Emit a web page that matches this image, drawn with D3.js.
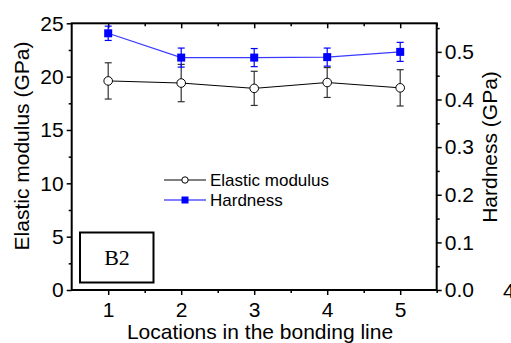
<!DOCTYPE html>
<html><head><meta charset="utf-8">
<script src="https://cdn.jsdelivr.net/npm/d3@7"></script>
<style>html,body{margin:0;padding:0;background:#fff;}svg{display:block;}</style>
</head><body>
<svg id="c" width="511" height="343"></svg>
<script>
const locations = [1, 2, 3, 4, 5];
const modulus = [19.6, 19.4, 18.9, 19.45, 18.95];
const modulusErr = [1.7, 1.75, 1.6, 1.4, 1.7];
const hardness = [0.539, 0.488, 0.488, 0.489, 0.500];
const hardnessErr = [0.015, 0.020, 0.019, 0.019, 0.020];
const xTicks = [1, 2, 3, 4, 5];
const leftTicks = [0, 5, 10, 15, 20, 25];
const rightTicks = [0, 0.1, 0.2, 0.3, 0.4, 0.5];

const svg = d3.select("#c");
const L = 71.7, R = 436.7, T = 23.3, B = 290;
const x = d3.scaleLinear().domain([0.5, 5.5]).range([L, R]);
const yL = d3.scaleLinear().domain([0, 25]).range([B, T]);
const yR = d3.scaleLinear().domain([0, 0.56]).range([B, T]);
const font = "Liberation Sans, Arial, sans-serif";

function styleAxis(g, size) {
  g.selectAll("path").remove();
  g.selectAll("line").attr("stroke", "#000").attr("stroke-width", 1.5);
  g.selectAll("text").attr("font-family", font).attr("font-size", size).attr("fill", "#000");
}
const xMinor = d3.range(1.5, 5.6, 1);
const lMinor = d3.range(2.5, 25, 5);
const rMinor = d3.range(0.05, 0.56, 0.1);

// bottom axis
const gb = svg.append("g").attr("transform", `translate(0,${B})`)
  .call(d3.axisBottom(x).tickValues(xTicks).tickFormat(d3.format("d")).tickSize(5).tickPadding(7));
styleAxis(gb, 21);
svg.append("g").attr("transform", `translate(0,${B})`)
  .call(d3.axisBottom(x).tickValues(xMinor).tickFormat("").tickSize(3)).call(g => styleAxis(g, 21));
// top axis (inward ticks)
svg.append("g").attr("transform", `translate(0,${T})`)
  .call(d3.axisBottom(x).tickValues(xTicks).tickFormat("").tickSize(5)).call(g => styleAxis(g, 21));
svg.append("g").attr("transform", `translate(0,${T})`)
  .call(d3.axisBottom(x).tickValues(xMinor).tickFormat("").tickSize(3)).call(g => styleAxis(g, 21));
// left axis
const gl = svg.append("g").attr("transform", `translate(${L},0)`)
  .call(d3.axisLeft(yL).tickValues(leftTicks).tickFormat(d3.format("d")).tickSize(5).tickPadding(3));
styleAxis(gl, 21);
svg.append("g").attr("transform", `translate(${L},0)`)
  .call(d3.axisLeft(yL).tickValues(lMinor).tickFormat("").tickSize(3)).call(g => styleAxis(g, 21));
// right axis
const gr = svg.append("g").attr("transform", `translate(${R},0)`)
  .call(d3.axisRight(yR).tickValues(rightTicks).tickFormat(d3.format(".1f")).tickSize(5).tickPadding(3));
styleAxis(gr, 21);
svg.append("g").attr("transform", `translate(${R},0)`)
  .call(d3.axisRight(yR).tickValues(rMinor).tickFormat("").tickSize(3)).call(g => styleAxis(g, 21));

// frame
svg.append("rect").attr("x", L).attr("y", T).attr("width", R - L).attr("height", B - T)
  .attr("fill", "none").attr("stroke", "#000").attr("stroke-width", 2);

// elastic modulus series
const capW = 3.5;
const eg = svg.append("g");
eg.append("path").datum(locations.map((d, i) => [d, modulus[i]]))
  .attr("d", d3.line().x(d => x(d[0])).y(d => yL(d[1])))
  .attr("fill", "none").attr("stroke", "#000").attr("stroke-width", 1);
locations.forEach((d, i) => {
  const cx = x(d), y1 = yL(modulus[i] + modulusErr[i]), y2 = yL(modulus[i] - modulusErr[i]);
  eg.append("line").attr("x1", cx).attr("x2", cx).attr("y1", y1).attr("y2", y2).attr("stroke", "#333").attr("stroke-width", 1.2);
  eg.append("line").attr("x1", cx - capW).attr("x2", cx + capW).attr("y1", y1).attr("y2", y1).attr("stroke", "#333").attr("stroke-width", 1.2);
  eg.append("line").attr("x1", cx - capW).attr("x2", cx + capW).attr("y1", y2).attr("y2", y2).attr("stroke", "#333").attr("stroke-width", 1.2);
});
eg.selectAll("circle").data(locations).join("circle")
  .attr("cx", d => x(d)).attr("cy", (d, i) => yL(modulus[i])).attr("r", 4.3)
  .attr("fill", "#fff").attr("stroke", "#000").attr("stroke-width", 1);

// hardness series
const hg = svg.append("g");
hg.append("path").datum(locations.map((d, i) => [d, hardness[i]]))
  .attr("d", d3.line().x(d => x(d[0])).y(d => yR(d[1])))
  .attr("fill", "none").attr("stroke", "#3a3aff").attr("stroke-width", 1.2);
locations.forEach((d, i) => {
  const cx = x(d), y1 = yR(hardness[i] + hardnessErr[i]), y2 = yR(hardness[i] - hardnessErr[i]);
  hg.append("line").attr("x1", cx).attr("x2", cx).attr("y1", y1).attr("y2", y2).attr("stroke", "#0000ff").attr("stroke-width", 1.2);
  hg.append("line").attr("x1", cx - capW).attr("x2", cx + capW).attr("y1", y1).attr("y2", y1).attr("stroke", "#0000ff").attr("stroke-width", 1.2);
  hg.append("line").attr("x1", cx - capW).attr("x2", cx + capW).attr("y1", y2).attr("y2", y2).attr("stroke", "#0000ff").attr("stroke-width", 1.2);
});
hg.selectAll("rect").data(locations).join("rect")
  .attr("x", d => x(d) - 4).attr("y", (d, i) => yR(hardness[i]) - 4).attr("width", 8).attr("height", 8)
  .attr("fill", "#0000ff");

// legend
const lg = svg.append("g").attr("font-family", font).attr("font-size", 17);
lg.append("line").attr("x1", 164).attr("x2", 206).attr("y1", 180).attr("y2", 180).attr("stroke", "#000").attr("stroke-width", 1);
lg.append("circle").attr("cx", 185).attr("cy", 180).attr("r", 3.2).attr("fill", "#fff").attr("stroke", "#000");
lg.append("text").attr("x", 210).attr("y", 186).text("Elastic modulus");
lg.append("line").attr("x1", 164).attr("x2", 206).attr("y1", 200).attr("y2", 200).attr("stroke", "#0000ff").attr("stroke-width", 1);
lg.append("rect").attr("x", 181.5).attr("y", 196.5).attr("width", 7).attr("height", 7).attr("fill", "#0000ff");
lg.append("text").attr("x", 210).attr("y", 206).text("Hardness");

// B2 box
svg.append("rect").attr("x", 80).attr("y", 232.5).attr("width", 73.5).attr("height", 50)
  .attr("fill", "#fff").attr("stroke", "#000").attr("stroke-width", 2);
svg.append("text").attr("x", 117).attr("y", 265).attr("text-anchor", "middle")
  .attr("font-family", "Liberation Serif, Times New Roman, serif").attr("font-size", 22).text("B2");

// axis titles
svg.append("text").attr("transform", "translate(29,146) rotate(-90)").attr("text-anchor", "middle")
  .attr("font-family", font).attr("font-size", 21).text("Elastic modulus (GPa)");
svg.append("text").attr("transform", "translate(497,147) rotate(-90)").attr("text-anchor", "middle")
  .attr("font-family", font).attr("font-size", 21).text("Hardness (GPa)");
svg.append("text").attr("x", 260).attr("y", 339).attr("text-anchor", "middle")
  .attr("font-family", font).attr("font-size", 21).text("Locations in the bonding line");
// stray page character at right edge (cut off in the reference too)
svg.append("text").attr("x", 503).attr("y", 298)
  .attr("font-family", font).attr("font-size", 21).text("4");
</script>
</body></html>
